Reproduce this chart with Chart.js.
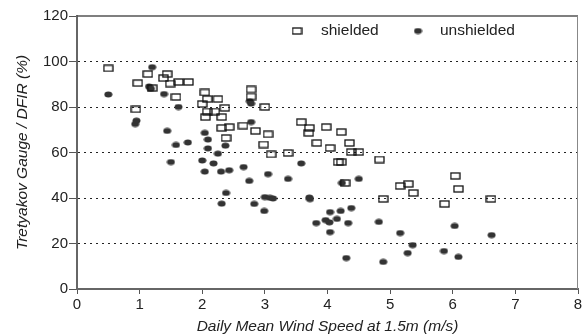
<!DOCTYPE html>
<html>
<head>
<meta charset="utf-8">
<script src="https://cdn.jsdelivr.net/npm/chart.js@4.4.1/dist/chart.umd.min.js"></script>
<style>
  html, body { margin: 0; padding: 0; background: #fff; }
</style>
</head>
<body>
<canvas id="chart" width="586" height="334"></canvas>
<script>
// Data
const shieldedX = [0.50, 0.94, 0.97, 1.13, 1.20, 1.38, 1.44, 1.49, 1.58, 1.62, 1.78, 2.00, 2.04, 2.05, 2.08, 2.08, 2.20, 2.25,
  2.31, 2.31, 2.36, 2.38, 2.43, 2.65, 2.78, 2.78, 2.85, 2.98, 3.00, 3.05, 3.10, 3.37, 3.58, 3.70, 3.71, 3.83, 3.98,
  4.04, 4.17, 4.22, 4.22, 4.28, 4.35, 4.38, 4.50, 4.83, 4.89, 5.16, 5.29, 5.37, 5.87, 6.04, 6.09, 6.61];
const shieldedY = [97, 79, 90.5, 94.5, 88.3, 92.7, 94.5, 90.3, 84.4, 91, 91, 81.3, 86.4, 75.6, 83.5, 78, 78, 83.5,
  75.6, 70.8, 79.6, 66.4, 71.2, 71.8, 87.7, 84.6, 69.5, 63.5, 80, 68, 59.2, 59.8, 73.4, 68.6, 70.8, 64.2, 71.2,
  62, 55.8, 69, 55.8, 46.6, 64.2, 60.2, 60.2, 56.9, 39.6, 45.3, 46.2, 42.2, 37.4, 49.7, 44, 39.6];

const unshieldedX = [0.50, 0.93, 0.95, 1.15, 1.18, 1.20, 1.39, 1.44, 1.50, 1.58, 1.62, 1.77, 2.00, 2.04, 2.04, 2.09, 2.09,
  2.18, 2.25, 2.30, 2.31, 2.37, 2.38, 2.43, 2.66, 2.75, 2.76, 2.78, 2.78, 2.83, 2.99, 3.00, 3.05, 3.08, 3.13, 3.37,
  3.58, 3.71, 3.72, 3.82, 3.97, 4.03, 4.04, 4.04, 4.15, 4.21, 4.23, 4.30, 4.33, 4.38, 4.50, 4.82, 4.89, 5.16, 5.28,
  5.36, 5.86, 6.03, 6.09, 6.62];
const unshieldedY = [85.5, 72.5, 74, 89, 88, 97.5, 85.7, 69.5, 55.8, 63.3, 80, 64.4, 56.5, 68.6, 51.6, 65.7, 61.8,
  55.2, 59.5, 51.6, 37.5, 63, 42.2, 52.2, 53.6, 47.5, 82.5, 81.5, 73.4, 37.4, 34.3, 40.4, 50.5, 40.1, 39.8, 48.4,
  55.2, 40.2, 39.5, 29, 30.3, 29.3, 33.8, 25, 30.8, 34.3, 46.6, 13.6, 29, 35.6, 48.4, 29.5, 11.9, 24.6, 15.8,
  19.3, 16.7, 27.7, 14.1, 23.7];

const xTicks = [0, 1, 2, 3, 4, 5, 6, 7, 8];
const yTicks = [0, 20, 40, 60, 80, 100, 120];
const seriesNames = ['shielded', 'unshielded'];

const FONT = "'Liberation Sans', Arial, sans-serif";

// marker images
function makeSquare() {
  const c = document.createElement('canvas');
  c.width = 11; c.height = 8;
  const g = c.getContext('2d');
  g.strokeStyle = '#111';
  g.lineWidth = 1.3;
  g.strokeRect(1, 1, 9, 6);
  return c;
}
function makeDot() {
  const c = document.createElement('canvas');
  c.width = 9; c.height = 7;
  const g = c.getContext('2d');
  g.fillStyle = '#333';
  g.beginPath();
  g.ellipse(4.5, 3.5, 4, 3, 0, 0, Math.PI * 2);
  g.fill();
  return c;
}
const squareImg = makeSquare();
const dotImg = makeDot();

const toPoints = (xs, ys) => xs.map((x, i) => ({ x: x, y: ys[i] }));

// top + right frame lines
const framePlugin = {
  id: 'frame',
  beforeDatasetsDraw(chart) {
    const { ctx, chartArea: a } = chart;
    ctx.save();
    ctx.strokeStyle = '#555';
    ctx.lineWidth = 1.5;
    ctx.beginPath();
    ctx.moveTo(a.left, a.top);
    ctx.lineTo(a.right, a.top);
    ctx.stroke();
    ctx.strokeStyle = '#888';
    ctx.lineWidth = 1;
    ctx.beginPath();
    ctx.moveTo(a.right - 0.5, a.top);
    ctx.lineTo(a.right - 0.5, a.bottom);
    ctx.stroke();
    ctx.restore();
  }
};

// legend sits inside the plot, top right
const legendPlugin = {
  id: 'innerLegend',
  afterDraw(chart) {
    const { ctx, chartArea: a } = chart;
    const y = a.top + 15;
    ctx.save();
    ctx.font = '15.5px ' + FONT;
    ctx.fillStyle = '#222';
    ctx.textBaseline = 'middle';
    ctx.drawImage(squareImg, a.left + 220 - 5.5, y - 4);
    ctx.fillText(seriesNames[0], a.left + 244, y);
    ctx.drawImage(dotImg, a.left + 341 - 4.5, y - 3.5);
    ctx.fillText(seriesNames[1], a.left + 363, y);
    ctx.restore();
  }
};

const chart = new Chart(document.getElementById('chart'), {
  type: 'scatter',
  data: {
    datasets: [
      {
        label: seriesNames[0],
        data: toPoints(shieldedX, shieldedY),
        pointStyle: squareImg
      },
      {
        label: seriesNames[1],
        data: toPoints(unshieldedX, unshieldedY),
        pointStyle: dotImg
      }
    ]
  },
  options: {
    responsive: false,
    animation: false,
    events: [],
    layout: { padding: { top: 16, right: 8, bottom: 0, left: 0 } },
    plugins: {
      legend: { display: false },
      tooltip: { enabled: false }
    },
    scales: {
      x: {
        type: 'linear',
        min: 0,
        max: 8,
        afterBuildTicks: (s) => { s.ticks = xTicks.map(v => ({ value: v })); },
        afterFit: (s) => { s.height = 45; },
        ticks: { color: '#222', font: { family: FONT, size: 15 }, padding: 2 },
        grid: { drawOnChartArea: false, drawTicks: true, tickLength: 5, tickColor: '#555' },
        border: { color: '#666', width: 2 },
        title: {
          display: true,
          text: 'Daily Mean Wind Speed at 1.5m (m/s)',
          color: '#222',
          font: { family: FONT, size: 15.5, style: 'italic' },
          padding: { top: 0, bottom: -2 }
        }
      },
      y: {
        min: 0,
        max: 120,
        afterBuildTicks: (s) => { s.ticks = yTicks.map(v => ({ value: v })); },
        afterFit: (s) => { s.width = 77; },
        ticks: { color: '#222', font: { family: FONT, size: 15 }, padding: 1 },
        grid: {
          color: (c) => (c.tick && (c.tick.value === 0 || c.tick.value === 120)) ? 'rgba(0,0,0,0)' : '#222',
          lineWidth: 1,
          tickLength: 8,
          tickColor: '#555'
        },
        border: { color: '#666', width: 2, dash: [2, 4] },
        title: {
          display: true,
          text: 'Tretyakov Gauge / DFIR (%)',
          color: '#222',
          font: { family: FONT, size: 15.5, style: 'italic' },
          padding: { top: 13, bottom: 0 }
        }
      }
    }
  },
  plugins: [framePlugin, legendPlugin]
});
</script>
</body>
</html>
